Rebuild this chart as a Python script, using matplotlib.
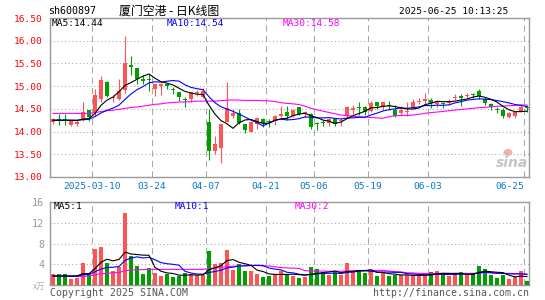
import matplotlib
matplotlib.use("Agg")
import matplotlib.pyplot as plt
from matplotlib.patches import Ellipse
import numpy as np
import pandas as pd

# ---------------- data ----------------
tick_idx = [7, 17, 26, 36, 44, 53, 63, 79]
tick_labels = ["2025-03-10", "03-24", "04-07", "04-21", "05-06", "05-19", "06-03", "06-25"]

opens = [14.21, 14.27, 14.26, 14.15, 14.16, 14.26, 14.47, 14.42, 14.71, 15.10,
         14.74, 14.72, 14.91, 15.46, 15.40, 15.15, 15.16, 14.93, 15.00, 15.04,
         14.94, 14.88, 14.70, 14.72, 14.84, 14.76, 14.21, 13.57, 13.63, 14.21,
         14.34, 14.40, 14.16, 14.00, 14.16, 14.27, 14.22, 14.23, 14.34, 14.43,
         14.34, 14.53, 14.39, 14.38, 14.19, 14.20, 14.18, 14.27, 14.23, 14.34,
         14.47, 14.53, 14.54, 14.46, 14.65, 14.54, 14.58, 14.48, 14.40, 14.44,
         14.51, 14.65, 14.68, 14.69, 14.60, 14.62, 14.62, 14.75, 14.79, 14.78,
         14.83, 14.89, 14.71, 14.60, 14.50, 14.47, 14.32, 14.35, 14.46, 14.55]
highs = [14.29, 14.38, 14.38, 14.24, 14.25, 14.65, 14.47, 14.93, 15.22, 15.12,
         14.81, 15.15, 16.10, 15.67, 15.40, 15.24, 15.27, 15.04, 15.06, 15.07,
         14.99, 14.88, 14.77, 14.88, 14.91, 14.95, 14.50, 13.91, 14.16, 15.10,
         14.50, 14.50, 14.16, 14.24, 14.31, 14.30, 14.27, 14.36, 14.57, 14.56,
         14.49, 14.54, 14.45, 14.40, 14.22, 14.26, 14.29, 14.29, 14.29, 14.56,
         14.58, 14.64, 14.56, 14.68, 14.66, 14.66, 14.67, 14.58, 14.57, 14.65,
         14.71, 14.75, 14.86, 14.75, 14.69, 14.65, 14.72, 14.82, 14.82, 14.84,
         14.84, 14.93, 14.76, 14.62, 14.53, 14.51, 14.43, 14.43, 14.60, 14.58]
lows = [14.17, 14.15, 14.15, 14.13, 14.12, 14.24, 14.24, 14.34, 14.64, 14.76,
        14.65, 14.69, 14.84, 15.24, 15.04, 15.04, 14.90, 14.78, 14.80, 14.93,
        14.82, 14.68, 14.54, 14.64, 14.78, 14.73, 13.37, 13.50, 13.31, 14.21,
        14.29, 14.17, 13.96, 13.98, 14.05, 14.10, 14.10, 14.15, 14.31, 14.26,
        14.31, 14.37, 14.29, 14.06, 14.03, 14.12, 14.12, 14.12, 14.12, 14.30,
        14.38, 14.37, 14.37, 14.42, 14.50, 14.47, 14.47, 14.32, 14.34, 14.34,
        14.50, 14.60, 14.58, 14.51, 14.54, 14.52, 14.58, 14.69, 14.56, 14.73,
        14.73, 14.71, 14.58, 14.47, 14.40, 14.30, 14.29, 14.30, 14.43, 14.43]
closes = [14.28, 14.24, 14.25, 14.23, 14.22, 14.43, 14.31, 14.80, 15.13, 14.79,
          14.77, 14.89, 15.51, 15.43, 15.16, 15.11, 15.13, 15.04, 15.04, 15.01,
          14.91, 14.77, 14.69, 14.87, 14.87, 14.89, 13.57, 13.72, 14.16, 14.51,
          14.40, 14.18, 14.03, 14.21, 14.29, 14.18, 14.21, 14.34, 14.38, 14.35,
          14.47, 14.38, 14.43, 14.10, 14.17, 14.18, 14.27, 14.17, 14.26, 14.54,
          14.51, 14.51, 14.42, 14.63, 14.57, 14.65, 14.56, 14.35, 14.47, 14.46,
          14.64, 14.68, 14.71, 14.62, 14.68, 14.60, 14.68, 14.77, 14.74, 14.80,
          14.81, 14.79, 14.63, 14.53, 14.48, 14.35, 14.41, 14.42, 14.54, 14.52]
volumes = [2.17, 2.17, 2.17, 1.15, 1.40, 4.27, 2.17, 6.94, 7.30, 4.27,
           2.74, 3.50, 13.90, 5.54, 3.76, 2.17, 3.38, 2.36, 1.78, 2.17,
           1.60, 1.80, 2.30, 2.17, 1.90, 1.90, 6.62, 4.14, 4.27, 6.75,
           2.87, 4.01, 2.74, 2.74, 2.17, 1.53, 1.78, 2.17, 2.74, 2.17,
           1.78, 1.34, 1.66, 3.50, 3.12, 2.55, 1.91, 2.55, 1.91, 4.27,
           2.55, 2.87, 2.42, 2.74, 1.78, 2.42, 1.78, 1.97, 1.91, 1.91,
           1.91, 1.91, 1.91, 2.55, 2.74, 2.29, 1.78, 1.91, 2.55, 1.91,
           2.29, 3.69, 3.12, 1.97, 1.40, 1.97, 1.21, 1.53, 2.74, 0.83]

# moving-average values before a full window is available
ma5_head = [14.25, 14.25, 14.25, 14.25]
ma10_head = [14.25, 14.25, 14.25, 14.25, 14.25, 14.26, 14.27, 14.33, 14.41]
ma30_head = [14.40, 14.40, 14.40, 14.40, 14.40, 14.40, 14.40, 14.42, 14.44, 14.46,
             14.47, 14.49, 14.51, 14.53, 14.54, 14.56, 14.58, 14.60, 14.61, 14.63,
             14.64, 14.65, 14.65, 14.66, 14.67, 14.67, 14.67, 14.67, 14.68]
vma5_head = [1.8, 1.8, 1.8, 1.8]
vma10_head = [1.75, 1.75, 1.75, 1.75, 1.75, 2.0, 2.1, 2.6, 3.1]
vma30_head = [1.7, 1.7, 1.7, 1.7, 1.7, 1.7, 1.8, 2.0, 2.2, 2.3,
              2.4, 2.45, 2.8, 2.9, 3.0, 3.0, 3.05, 3.05, 3.05, 3.05,
              3.05, 3.05, 3.05, 3.05, 3.05, 3.05, 3.2, 3.3, 3.4]

# legend texts as shown on the chart
price_legend = ["MA5:14.44", "MA10:14.54", "MA30:14.58"]
vol_legend = ["MA5:1", "MA10:1", "MA30:2"]

title = "厦门空港 - 日K线图"
code = "sh600897"
stamp = "2025-06-25 10:13:25"


def moving(values, n, head):
    out = pd.Series(values, dtype=float).rolling(n).mean().to_numpy()
    out[:n - 1] = head
    return out


ma5 = moving(closes, 5, ma5_head)
ma10 = moving(closes, 10, ma10_head)
ma30 = moving(closes, 30, ma30_head)
vma5 = moving(volumes, 5, vma5_head)
vma10 = moving(volumes, 10, vma10_head)
vma30 = moving(volumes, 30, vma30_head)

# ---------------- style ----------------
W, H = 545, 300
RED = "#ff5454"
GREEN = "#009f00"
GRID = "#a8a8a8"
BORDER = "#999999"
MONO = "DejaVu Sans Mono"
FS = 6.8
CJK = ["Noto Sans CJK SC", "DejaVu Sans"]

fig = plt.figure(figsize=(W / 100, H / 100), dpi=100)
fig.patch.set_facecolor("white")


def frac(x, y):
    return x / W, 1 - y / H


L, R = 50, 529
ax = fig.add_axes([L / W, 1 - 177 / H, (R - L) / W, (177 - 18) / H])
axv = fig.add_axes([L / W, 1 - 285.3 / H, (R - L) / W, (285.3 - 201.7) / H])

n = len(closes)
x = np.arange(n)
xlim = (-0.5, (R - 53) / 6.0)
o = np.array(opens); c = np.array(closes); h = np.array(highs); lo = np.array(lows)
up = c >= o
cols = np.where(up, RED, GREEN)

for a in (ax, axv):
    a.set_xlim(*xlim)
    for s in a.spines.values():
        s.set_color(BORDER)
        s.set_linewidth(1.0)
    a.tick_params(length=0)
    for i in tick_idx:
        a.axvline(i - 0.5, color=GRID, lw=0.75, dashes=(6, 4), zorder=0)

# price panel
ax.set_ylim(13.0, 16.5)
for yv in [13.5, 14.0, 14.5, 15.0, 15.5, 16.0]:
    ax.axhline(yv, color=GRID, lw=0.75, dashes=(1, 2.5), zorder=0)
ax.vlines(x, lo, h, colors=cols, lw=0.8, zorder=2)
body_bottom = np.minimum(o, c)
body_h = np.maximum(np.abs(c - o), 0.022)
ax.bar(x, body_h, bottom=body_bottom, width=0.83, color=cols, linewidth=0, zorder=3)
ax.plot(x, ma30, color="#ff00ff", lw=0.8, zorder=4)
ax.plot(x, ma10, color="#0000ff", lw=0.8, zorder=5)
ax.plot(x, ma5, color="#000000", lw=0.8, zorder=6)

yt = [13.0, 13.5, 14.0, 14.5, 15.0, 15.5, 16.0, 16.5]
ax.set_yticks(yt)
ax.set_yticklabels([f"{v:.2f}" for v in yt], color="#ff0000", fontsize=FS, family=MONO)
ax.tick_params(axis="y", pad=5)
ax.set_xticks([i - 0.5 for i in tick_idx])
ax.set_xticklabels(tick_labels, color="#0a78c8", fontsize=FS, family=MONO)
ax.tick_params(axis="x", pad=3.5)
ax.get_xticklabels()[-1].set_ha("right")

fig.text(*frac(52, 24), price_legend[0], color="#000000", fontsize=FS, family=MONO,
         va="center", ha="left")
fig.text(*frac(167, 24), price_legend[1], color="#0000ff", fontsize=FS, family=MONO,
         va="center", ha="left")
fig.text(*frac(283, 24), price_legend[2], color="#ff00ff", fontsize=FS, family=MONO,
         va="center", ha="left")

# watermark
fig.text(*frac(512, 163), "sina", color="#c4c4c4", fontsize=10, style="italic",
         weight="bold", family="DejaVu Sans", ha="center", va="center")
fig.patches.append(Ellipse(frac(508, 152.5), 9 / W, 7 / H, transform=fig.transFigure,
                           facecolor="#f2b0b0", edgecolor="none", zorder=10))

# volume panel
axv.set_ylim(0, 16)
for yv in [4, 8, 12]:
    axv.axhline(yv, color=GRID, lw=0.75, dashes=(1, 2.5), zorder=0)
axv.bar(x, volumes, width=0.83, color=cols, linewidth=0, zorder=3)
axv.plot(x, vma30, color="#ff00ff", lw=0.8, zorder=4)
axv.plot(x, vma10, color="#0000ff", lw=0.8, zorder=5)
axv.plot(x, vma5, color="#000000", lw=0.8, zorder=6)
axv.set_yticks([4, 8, 12, 16])
axv.set_yticklabels(["4", "8", "12", "16"], color="#999999", fontsize=FS + 0.5, family=MONO)
axv.tick_params(axis="y", pad=4)
axv.set_xticks([])

fig.text(*frac(54, 206.5), vol_legend[0], color="#000000", fontsize=FS, family=MONO,
         va="center", ha="left")
fig.text(*frac(175, 206.5), vol_legend[1], color="#0000ff", fontsize=FS, family=MONO,
         va="center", ha="left")
fig.text(*frac(295, 206.5), vol_legend[2], color="#ff00ff", fontsize=FS, family=MONO,
         va="center", ha="left")
fig.text(*frac(45, 286), "x万", color="#aaaaaa", fontsize=6, family=CJK,
         va="center", ha="right")

# header / footer
fig.text(*frac(48, 11), code, color="#000000", fontsize=FS + 0.4, family=MONO, va="center", ha="left")
fig.text(*frac(169, 11), title, color="#000000", fontsize=8.6, family=CJK,
         va="center", ha="center")
fig.text(*frac(508, 11), stamp, color="#000000", fontsize=FS, family=MONO, va="center", ha="right")
fig.text(*frac(50, 293), "Copyright 2025 SINA.COM", color="#555555", fontsize=FS + 0.3,
         family=MONO, va="center", ha="left")
fig.text(*frac(529, 293), "http://finance.sina.com.cn", color="#555555", fontsize=FS + 0.3,
         family=MONO, va="center", ha="right")

fig.savefig("out.png", dpi=100, facecolor="white")
